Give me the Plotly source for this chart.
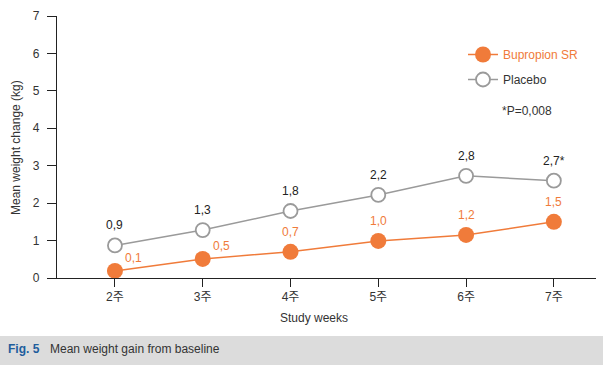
import plotly.graph_objects as go

weeks = ["2주", "3주", "4주", "5주", "6주", "7주"]
bupropion = [0.19, 0.51, 0.70, 0.99, 1.15, 1.50]
placebo = [0.87, 1.28, 1.79, 2.22, 2.73, 2.60]
bup_labels = ["0,1", "0,5", "0,7", "1,0", "1,2", "1,5"]
pla_labels = ["0,9", "1,3", "1,8", "2,2", "2,8", "2,7*"]
y_ticks = [0, 1, 2, 3, 4, 5, 6, 7]

ORANGE = "#f07b3a"
GRAY = "#9a9a9a"
FONT = "Liberation Sans, Arial, Noto Sans CJK KR, sans-serif"
CAP_FONT = "Liberation Sans Narrow, Arial Narrow, Liberation Sans, sans-serif"

W, H = 603, 365
L, R, T, B = 57, 7, 16, 87
pw, ph = W - L - R, H - T - B

def px_x(p):
    return (p - L) / pw

def px_y(p):
    return (H - B - p) / ph

xs = list(range(len(weeks)))

fig = go.Figure()
fig.add_trace(go.Scatter(
    x=xs, y=bupropion, name="<span style='color:%s'>Bupropion SR</span>" % ORANGE,
    legendgroup="b", mode="lines+markers",
    line=dict(color=ORANGE, width=1.5),
    marker=dict(size=16, color=ORANGE, line=dict(width=0)),
    cliponaxis=False,
))
fig.add_trace(go.Scatter(
    x=xs, y=placebo, name="Placebo", legendgroup="p",
    mode="lines+markers",
    line=dict(color=GRAY, width=1.5),
    marker=dict(size=14, color="white", line=dict(width=1.8, color=GRAY)),
    cliponaxis=False,
))

annotations = []
for i, (v, t) in enumerate(zip(placebo, pla_labels)):
    annotations.append(dict(x=xs[i], y=v, text=t, showarrow=False, yshift=20,
                            font=dict(size=12, color="#222222")))
for i, (v, t) in enumerate(zip(bupropion, bup_labels)):
    if i < 2:
        annotations.append(dict(x=xs[i], y=v, text=t, showarrow=False, xshift=19, yshift=13,
                                font=dict(size=12, color=ORANGE)))
    else:
        annotations.append(dict(x=xs[i], y=v, text=t, showarrow=False, yshift=20,
                                font=dict(size=12, color=ORANGE)))

annotations += [
    dict(text="Mean weight change (kg)", textangle=-90, xref="paper", yref="paper",
         x=px_x(16), y=px_y(148), xanchor="center", yanchor="middle", showarrow=False,
         font=dict(size=12, color="#333333")),
    dict(text="Study weeks", xref="paper", yref="paper", xanchor="center", yanchor="middle",
         x=px_x(314), y=px_y(318), showarrow=False, font=dict(size=12, color="#333333")),
    dict(text="*P=0,008", xref="paper", yref="paper", xanchor="left", yanchor="middle",
         x=px_x(500), y=px_y(111), showarrow=False, font=dict(size=12, color="#333333")),
    dict(text="<b>Fig. 5</b>", xref="paper", yref="paper", xanchor="left", yanchor="middle",
         x=px_x(6), y=px_y(349), showarrow=False,
         font=dict(size=12, color="#1f5d9c", family=CAP_FONT)),
    dict(text="Mean weight gain from baseline", xref="paper", yref="paper", xanchor="left",
         yanchor="middle", x=px_x(48), y=px_y(349), showarrow=False,
         font=dict(size=12, color="#333333", family=CAP_FONT)),
]

fig.update_layout(
    width=W, height=H,
    margin=dict(l=L, r=R, t=T, b=B),
    paper_bgcolor="white", plot_bgcolor="white",
    font=dict(family=FONT, size=12, color="#333333"),
    showlegend=True,
    legend=dict(x=px_x(463), y=px_y(40), xanchor="left", yanchor="top",
                traceorder="grouped", tracegroupgap=6,
                bgcolor="rgba(0,0,0,0)", font=dict(size=12, color="#333333")),
    xaxis=dict(
        tickmode="array", tickvals=xs, ticktext=weeks,
        range=[-0.66, 5.48], showgrid=False, zeroline=False,
        showline=True, linecolor="#222222", linewidth=1.2,
        ticks="outside", ticklen=8, tickcolor="#222222",
        ticklabelstandoff=-1,
        tickfont=dict(size=12, color="#333333"),
    ),
    yaxis=dict(
        range=[0, 7], tickvals=y_ticks, showgrid=False, zeroline=False,
        showline=True, linecolor="#222222", linewidth=1.2,
        ticks="outside", ticklen=9, tickcolor="#222222",
        ticklabelstandoff=5,
        tickfont=dict(size=12, color="#333333"),
    ),
    shapes=[dict(type="rect", xref="paper", yref="paper",
                 x0=px_x(-5), x1=px_x(W + 5), y0=px_y(336), y1=px_y(H + 5),
                 fillcolor="#dcdcdc", line=dict(width=0), layer="below")],
    annotations=annotations,
)

fig.write_html("out.html", config={"displayModeBar": False},
               post_script="document.body.style.margin='0';")
